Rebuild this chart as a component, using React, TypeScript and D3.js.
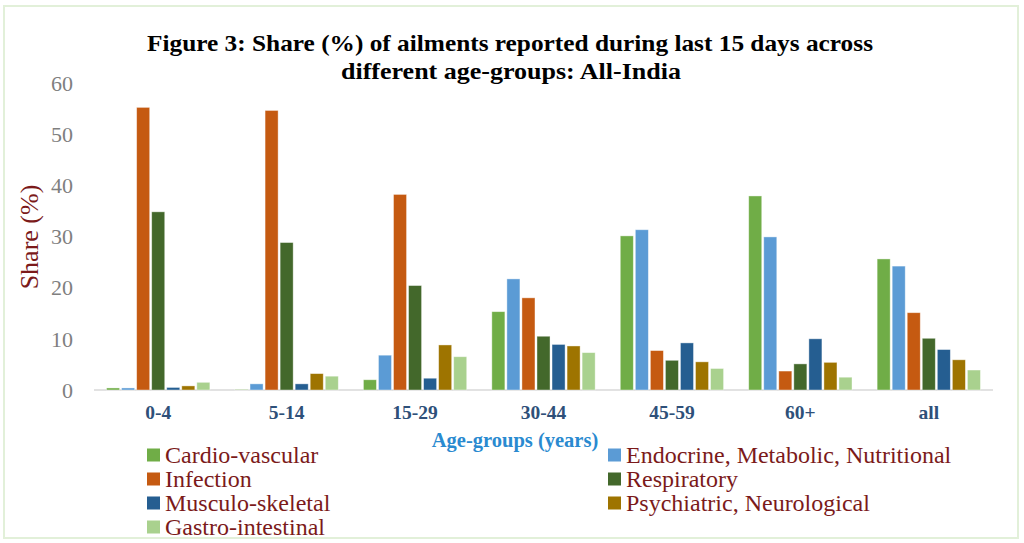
import React from "react";
import * as d3 from "d3";

const ageGroups = ["0-4", "5-14", "15-29", "30-44", "45-59", "60+", "all"];
const ailments = [
  "Cardio-vascular",
  "Endocrine, Metabolic, Nutritional",
  "Infection",
  "Respiratory",
  "Musculo-skeletal",
  "Psychiatric, Neurological",
  "Gastro-intestinal",
];
const colors = ["#70AD47", "#5B9BD5", "#C55A11", "#43682B", "#255E91", "#9E7400", "#A9D18E"];

// Share (%) per ailment, one value per age group
const cardio = [0.4, 0.1, 2.0, 15.3, 30.1, 37.9, 25.6];
const endocrine = [0.4, 1.2, 6.8, 21.7, 31.3, 29.9, 24.2];
const infection = [55.2, 54.6, 38.2, 18.0, 7.7, 3.7, 15.1];
const respiratory = [34.8, 28.8, 20.4, 10.5, 5.8, 5.1, 10.1];
const musculo = [0.5, 1.2, 2.3, 8.9, 9.2, 10.0, 7.9];
const psychiatric = [0.8, 3.2, 8.8, 8.6, 5.5, 5.4, 5.9];
const gastro = [1.5, 2.7, 6.5, 7.3, 4.2, 2.5, 3.9];

const yTicks = [0, 10, 20, 30, 40, 50, 60];

const series = [cardio, endocrine, infection, respiratory, musculo, psychiatric, gastro];

const W = 1024;
const H = 543;
const plot = { left: 94, right: 993, top: 82.8, bottom: 390 };

export default function App() {
  const x0 = d3
    .scaleBand<string>()
    .domain(ageGroups)
    .range([plot.left, plot.right])
    .paddingInner(0.18)
    .paddingOuter(0.09);
  const x1 = d3
    .scaleBand<string>()
    .domain(ailments)
    .range([0, x0.bandwidth()])
    .padding(0.0);
  const y = d3.scaleLinear().domain([0, 60]).range([plot.bottom, plot.top]);

  const serif = "'Liberation Serif', 'DejaVu Serif', serif";
  const legendLeft = [0, 2, 4, 6];
  const legendRight = [1, 3, 5];

  return (
    <svg
      width={W}
      height={H}
      style={{ position: "absolute", left: 0, top: 0, display: "block", background: "#fff" }}
    >
      <rect x={4} y={6} width={1014} height={532} fill="#fff" stroke="#E2F0D9" strokeWidth={2} />

      <g fontFamily={serif} fontWeight="bold" fill="#000" textAnchor="middle">
        <text x={510} y={51} fontSize={24} textLength={726} lengthAdjust="spacingAndGlyphs">
          Figure 3: Share (%) of ailments reported during last 15 days across
        </text>
        <text x={511} y={79} fontSize={24} textLength={340} lengthAdjust="spacingAndGlyphs">
          different age-groups: All-India
        </text>
      </g>

      <g fontFamily={serif} fontSize={22} fill="#7F7F7F" textAnchor="end">
        {yTicks.map((t) => (
          <text key={t} x={73} y={y(t)} dy="0.35em">
            {t}
          </text>
        ))}
      </g>

      <text
        transform={`translate(38,237) rotate(-90)`}
        fontFamily={serif}
        fontSize={26}
        fill="#7B1A1A"
        textAnchor="middle"
      >
        Share (%)
      </text>

      <line x1={plot.left} x2={plot.right} y1={plot.bottom} y2={plot.bottom} stroke="#D9D9D9" strokeWidth={1.5} />

      {ageGroups.map((g, gi) => (
        <g key={g} transform={`translate(${x0(g)},0)`}>
          {series.map((vals, si) => {
            const v = vals[gi];
            return (
              <rect
                key={si}
                x={(x1(ailments[si]) ?? 0) + 1}
                y={y(v)}
                width={x1.bandwidth() - 2}
                height={plot.bottom - y(v)}
                fill={colors[si]}
                stroke="#fff"
                strokeOpacity={0.5}
                strokeWidth={0.8}
              />
            );
          })}
        </g>
      ))}

      <g fontFamily={serif} fontSize={19.5} fontWeight="bold" fill="#2E5079" textAnchor="middle">
        {ageGroups.map((g) => (
          <text key={g} x={(x0(g) ?? 0) + x0.bandwidth() / 2} y={412} dy="0.35em">
            {g}
          </text>
        ))}
      </g>

      <text x={515} y={440} dy="0.35em" fontFamily={serif} fontSize={20.5} fontWeight="bold" fill="#2A8AD0" textAnchor="middle">
        Age-groups (years)
      </text>

      <g fontFamily={serif} fontSize={24} fill="#7B1A1A">
        {legendLeft.map((si, r) => (
          <g key={si} transform={`translate(147,${455 + r * 24})`}>
            <rect x={0} y={-6.5} width={13} height={13} fill={colors[si]} />
            <text x={18} y={0} dy="0.35em">
              {ailments[si]}
            </text>
          </g>
        ))}
        {legendRight.map((si, r) => (
          <g key={si} transform={`translate(608,${455 + r * 24})`}>
            <rect x={0} y={-6.5} width={13} height={13} fill={colors[si]} />
            <text x={18} y={0} dy="0.35em">
              {ailments[si]}
            </text>
          </g>
        ))}
      </g>
    </svg>
  );
}
